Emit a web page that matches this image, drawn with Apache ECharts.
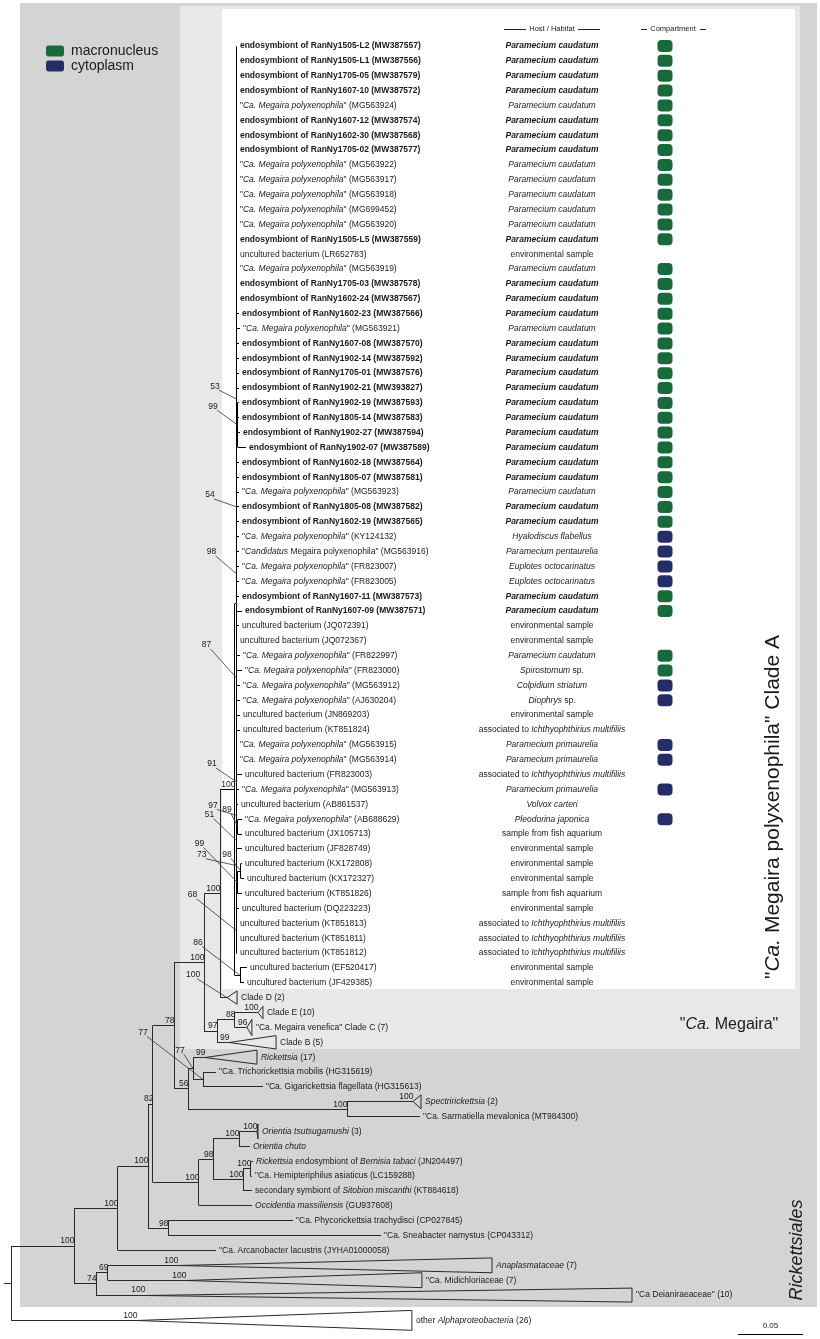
<!DOCTYPE html>
<html>
<head>
<meta charset="utf-8">
<script src="https://cdn.jsdelivr.net/npm/echarts@6/dist/echarts.min.js"></script>
<style>
  html, body { margin: 0; width: 100%; height: 100%; background: #fff; }
  #chart { width: 820px; height: 1339px; }
</style>
</head>
<body>
<div id="chart"></div>
<script>
// ---- data -------------------------------------------------------------
// leaf labels, _..._ marks italic parts
const MP = id => '"_Ca. Megaira polyxenophila_" (' + id + ')';
const ENDO = (n, id) => 'endosymbiont of RanNy' + n + ' (' + id + ')';
const UB = id => 'uncultured bacterium (' + id + ')';

const leafNames = [
  ENDO('1505-L2', 'MW387557'), ENDO('1505-L1', 'MW387556'), ENDO('1705-05', 'MW387579'), ENDO('1607-10', 'MW387572'),
  MP('MG563924'), ENDO('1607-12', 'MW387574'), ENDO('1602-30', 'MW387568'), ENDO('1705-02', 'MW387577'),
  MP('MG563922'), MP('MG563917'), MP('MG563918'), MP('MG699452'), MP('MG563920'),
  ENDO('1505-L5', 'MW387559'), UB('LR652783'), MP('MG563919'),
  ENDO('1705-03', 'MW387578'), ENDO('1602-24', 'MW387567'), ENDO('1602-23', 'MW387566'), MP('MG563921'),
  ENDO('1607-08', 'MW387570'), ENDO('1902-14', 'MW387592'), ENDO('1705-01', 'MW387576'), ENDO('1902-21', 'MW393827'),
  ENDO('1902-19', 'MW387593'), ENDO('1805-14', 'MW387583'), ENDO('1902-27', 'MW387594'), ENDO('1902-07', 'MW387589'),
  ENDO('1602-18', 'MW387564'), ENDO('1805-07', 'MW387581'), MP('MG563923'), ENDO('1805-08', 'MW387582'),
  ENDO('1602-19', 'MW387565'), MP('KY124132'), '"_Candidatus_ Megaira polyxenophila" (MG563916)', MP('FR823007'),
  MP('FR823005'), ENDO('1607-11', 'MW387573'), ENDO('1607-09', 'MW387571'), UB('JQ072391'),
  UB('JQ072367'), MP('FR822997'), MP('FR823000'), MP('MG563912'), MP('AJ630204'),
  UB('JN869203'), UB('KT851824'), MP('MG563915'), MP('MG563914'), UB('FR823003'), MP('MG563913'),
  UB('AB861537'), MP('AB688629'), UB('JX105713'), UB('JF828749'), UB('KX172808'), UB('KX172327'),
  UB('KT851826'), UB('DQ223223'), UB('KT851813'), UB('KT851811'), UB('KT851812'), UB('EF520417'), UB('JF429385'),
  'Clade D (2)', 'Clade E (10)', '"Ca. Megaira venefica" Clade C (7)', 'Clade B (5)',
  '_Rickettsia_ (17)', '"Ca. Trichorickettsia mobilis (HG315619)', '"Ca. Gigarickettsia flagellata (HG315613)',
  '_Spectririckettsia_ (2)', '"Ca. Sarmatiella mevalonica (MT984300)',
  '_Orientia tsutsugamushi_ (3)', '_Orientia chuto_', '_Rickettsia_ endosymbiont of _Bernisia tabaci_ (JN204497)',
  '"Ca. Hemipteriphilus asiaticus (LC159288)', 'secondary symbiont of _Sitobion miscanthi_ (KT884618)',
  '_Occidentia massiliensis_ (GU937608)', '"Ca. Phycorickettsia trachydisci (CP027845)',
  '"Ca. Sneabacter namystus (CP043312)', '"Ca. Arcanobacter lacustris (JYHA01000058)',
  '_Anaplasmataceae_ (7)', '"Ca. Midichloriaceae (7)', '"Ca Deianiraeaceae" (10)', 'other _Alphaproteobacteria_ (26)'
];

const boldRows = [0, 1, 2, 3, 5, 6, 7, 13, 16, 17, 18, 20, 21, 22, 23, 24, 25, 26, 27, 28, 29, 31, 32, 37, 38];

// distance from root (substitutions/site) of each leaf, or of the apex for collapsed clades
const leafDepth = [
  0.1738, 0.1738, 0.1738, 0.1738, 0.1738, 0.1738, 0.1738, 0.1738, 0.1738, 0.1738,
  0.1738, 0.1738, 0.1738, 0.1738, 0.1738, 0.1738, 0.1738, 0.1738, 0.1754, 0.1762,
  0.1754, 0.1754, 0.1754, 0.1754, 0.1754, 0.1754, 0.1762, 0.1808, 0.1754, 0.1754,
  0.1754, 0.1754, 0.1754, 0.1754, 0.1754, 0.1754, 0.1754, 0.1754, 0.1777, 0.1754,
  0.1738, 0.1762, 0.1777, 0.1762, 0.1762, 0.1762, 0.1762, 0.1738, 0.1738, 0.1777,
  0.1754, 0.1746, 0.1777, 0.1777, 0.1777, 0.1777, 0.1792, 0.1777, 0.1754, 0.1738,
  0.1738, 0.1738, 0.1815, 0.1792,
  0.1662, 0.1900, 0.1815, 0.1677, 0.1492, 0.1577, 0.1938, 0.3092, 0.3146,
  0.1892, 0.1838, 0.1862, 0.1854, 0.1854, 0.1854, 0.2169, 0.2846, 0.1577,
  0.1285, 0.1346, 0.1031, 0.0969
];

const collapsedLeaves = [64, 65, 66, 67, 68, 71, 73, 82, 83, 84, 85];
const collapsedLength = [0.0077, 0.0038, 0.0038, 0.0362, 0.0400, 0.0062, 0.0008, 0.2415, 0.1815, 0.3746, 0.2115];
const collapsedHalfRows = [0.45, 0.42, 0.55, 0.45, 0.47, 0.47, 0.5, 0.5, 0.5, 0.47, 0.67];
const leafSupport = { 64: 100, 65: 100, 66: 96, 67: 99, 68: 99, 71: 100, 73: 100, 82: 100, 83: 100, 84: 100, 85: 100 };
const rowShift = { 85: 0.7 };

// internal nodes: [depth, bootstrap, children, name]
const cladeA =
  [0.1723, 100, [
    [0.1731, null, [
      [0.1735, null, [
        0, 1, 2, 3, 4, 5, 6, 7, 8, 9, 10, 11, 12, 13, 14, 15, 16, 17, 18, 19, 20, 21,
        [0.1738, 53, [22, 23, [0.1746, 99, [24, 25, 26, 27], 'N99a']], 'N53'],
        28, 29,
        [0.1738, 54, [30, 31, 32], 'N54']
      ]],
      33, 34,
      [0.1735, 98, [35, 36], 'N98b'],
      37, 38, 39, 40,
      [0.1735, 87, [41, 42, 43, 44], 'N87'],
      45, 46, 47, 48,
      [0.1738, 91, [49, 50], 'N91'],
      [0.1735, 51, [
        [0.1738, 97, [51, [0.1746, 89, [52, 53], 'N89']], 'N97'],
        [0.1737, 73, [54, [0.1742, 99, [[0.1769, 98, [55, 56], 'N98c'], 57], 'N99']], 'N73']
      ], 'N51'],
      [0.1735, 68, [58, 59, 60, 61], 'N68']
    ]],
    [0.1762, 86, [62, 63], 'N86']
  ]];

const tree =
  [0, null, [
    [0.0485, 100, [
      [0.0823, 100, [
        [0.1054, 100, [
          [0.1092, 82, [
            [0.1254, 78, [
              [0.1485, 100, [
                [0.1608, 100, [cladeA, 64]],
                [0.1585, 97, [[0.1723, 88, [65, 66]], 67]]
              ]],
              [0.1362, 56, [
                [0.1400, 77, [68, [0.1477, 77, [69, 70], 'M77']], 'L77'],
                [0.2585, 100, [71, 72]]
              ]]
            ]],
            [0.1446, 100, [
              [0.1554, 98, [
                [0.1754, 100, [73, 74]],
                [0.1785, 100, [[0.1846, 100, [75, 76]], 77]]
              ]],
              78
            ]]
          ]],
          [0.1208, 98, [79, 80]]
        ]],
        81
      ]],
      [0.0654, 74, [[0.0746, 69, [82, 83]], 84]]
    ]],
    85
  ]];
const rootStub = -0.0054;

const PC = '_Paramecium caudatum_', ENV = 'environmental sample', PP = '_Paramecium primaurelia_';
const ICH = 'associated to _Ichthyophthirius multifiliis_', FISH = 'sample from fish aquarium';
const hosts = [
  PC, PC, PC, PC, PC, PC, PC, PC, PC, PC, PC, PC, PC, PC, ENV,
  PC, PC, PC, PC, PC, PC, PC, PC, PC, PC, PC, PC, PC, PC, PC, PC, PC, PC,
  '_Hyalodiscus flabellus_', '_Paramecium pentaurelia_', '_Euplotes octocarinatus_', '_Euplotes octocarinatus_',
  PC, PC, ENV, ENV, PC, '_Spirostomum_ sp.', '_Colpidium striatum_', '_Diophrys_ sp.',
  ENV, ICH, PP, PP, ICH, PP, '_Volvox carteri_', '_Pleodorina japonica_', FISH,
  ENV, ENV, ENV, FISH, ENV, ICH, ICH, ICH, ENV, ENV
];
// M = macronucleus, C = cytoplasm, - = not known
const compartments = 'MMMMMMMMMMMMMM-MMMMMMMMMMMMMMMMMMCCCCMM--MMCC--CC-C-C-----------'.split('');

const scaleBarLength = 0.05;

// ---- style ------------------------------------------------------------
const FONT = 'Liberation Sans, Arial, Helvetica, sans-serif';
const INK = '#1a1a1a';
const LINE = '#2a2a2a';
const GREEN = '#186a3b';
const BLUE = '#252d66';
const LABEL_SIZE = 8.5;
const HOST_X = 552;
const COMP_X = 665;
const leaderOffsets = {
  N53: [-22, -13], N99a: [-25, -19], N54: [-27, -12], N98b: [-25, -22], N87: [-30, -33],
  N91: [-25, -18], N97: [-24, -10], N89: [-11, -17], N51: [-27, -26], N73: [-35, -11],
  N99: [-38, -39], N98c: [-14, -17], N68: [-44, -36], N86: [-42, -33], leaf64: [-34, -23],
  L77: [-13, -18], M77: [-60, -47]
};

function richText(src, bold) {
  return src.split('_').map(function (part, k) {
    return part ? '{' + (bold ? 'b' : 'n') + (k % 2 ? 'i' : '') + '|' + part + '}' : '';
  }).join('');
}
function richStyles(size) {
  const base = { fontSize: size, fontFamily: FONT, fill: INK };
  return {
    n: base,
    ni: Object.assign({}, base, { fontStyle: 'italic' }),
    b: Object.assign({}, base, { fontWeight: 'bold' }),
    bi: Object.assign({}, base, { fontWeight: 'bold', fontStyle: 'italic' })
  };
}
const RICH = richStyles(LABEL_SIZE);

function leafRow(i) { return i + (rowShift[i] || 0); }

// ---- tree layout (rectangular phylogram, node y = middle of first/last child)
const branches = [];
function walk(node, parentDepth) {
  if (typeof node === 'number') {
    const y = leafRow(node);
    branches.push({ leaf: node, d: leafDepth[node], pd: parentDepth, y: y, s: leafSupport[node], key: 'leaf' + node });
    return y;
  }
  const d = node[0];
  const ys = node[2].map(function (k) { return walk(k, d); });
  const y = (ys[0] + ys[ys.length - 1]) / 2;
  branches.push({ d: d, pd: parentDepth, y: y, y0: ys[0], y1: ys[ys.length - 1], s: node[1], key: node[3] });
  return y;
}
walk(tree, rootStub);

const leaves = branches.filter(function (b) { return b.leaf != null; });
const supported = branches.filter(function (b) { return b.s != null; });
function collapsedIndex(i) { return collapsedLeaves.indexOf(i); }

const crisp = v => Math.round(v - 0.5) + 0.5;

function branchItem(params, api) {
  const b = branches[params.dataIndex];
  const inCladeA = b.y <= 63.5 && b.d > 0.17;
  const stroke = inCladeA ? '#000' : LINE;
  const p = api.coord([b.d, b.y]);
  const q = api.coord([b.pd, b.y]);
  const y = crisp(p[1]);
  const kids = [{
    type: 'line', shape: { x1: q[0], y1: y, x2: p[0], y2: y },
    style: { stroke: stroke, lineWidth: 1 }
  }];
  if (b.y0 !== undefined) {
    const a = api.coord([b.d, b.y0]);
    const c = api.coord([b.d, b.y1]);
    kids.push({
      type: 'line', shape: { x1: crisp(p[0]), y1: crisp(a[1]), x2: crisp(p[0]), y2: crisp(c[1]) },
      style: { stroke: stroke, lineWidth: 1 }
    });
  }
  if (b.leaf != null) {
    const ci = collapsedIndex(b.leaf);
    if (ci >= 0) {
      const end = b.d + collapsedLength[ci];
      const h = collapsedHalfRows[ci];
      const t = api.coord([end, b.y - h]);
      const u = api.coord([end, b.y + h]);
      kids.push({
        type: 'polygon', shape: { points: [[p[0], y], [t[0], t[1]], [u[0], u[1]]] },
        style: { fill: 'none', stroke: LINE, lineWidth: 1 }
      });
    }
  }
  return { type: 'group', children: kids };
}

function leafLabelItem(params, api) {
  const b = leaves[params.dataIndex];
  const ci = collapsedIndex(b.leaf);
  const end = ci >= 0 ? b.d + collapsedLength[ci] : b.d;
  const p = api.coord([end, b.y]);
  return {
    type: 'text', x: p[0] + (ci >= 0 ? 4 : 3), y: p[1],
    style: {
      text: richText(leafNames[b.leaf], boldRows.indexOf(b.leaf) >= 0),
      rich: RICH, fontSize: LABEL_SIZE, fontFamily: FONT, fill: INK,
      align: 'left', verticalAlign: 'middle'
    }
  };
}

function supportItem(params, api) {
  const b = supported[params.dataIndex];
  const p = api.coord([b.d, b.y]);
  const txt = { text: String(b.s), fontSize: 8.5, fontFamily: FONT, fill: INK };
  const off = b.key && leaderOffsets[b.key];
  if (off) {
    const lx = p[0] + off[0], ly = p[1] + off[1];
    return {
      type: 'group', children: [
        { type: 'line', shape: { x1: lx + 4, y1: ly + 4, x2: p[0], y2: p[1] }, style: { stroke: '#333', lineWidth: 0.8 } },
        { type: 'text', x: lx, y: ly, style: Object.assign({ align: 'center', verticalAlign: 'middle' }, txt) }
      ]
    };
  }
  return { type: 'text', x: p[0] + 0.5, y: p[1] - 0.5, style: Object.assign({ align: 'right', verticalAlign: 'bottom' }, txt) };
}

function hostItem(params, api) {
  const i = params.dataIndex;
  const p = api.coord([0, i]);
  return {
    type: 'text', x: HOST_X, y: p[1],
    style: {
      text: richText(hosts[i], boldRows.indexOf(i) >= 0), rich: RICH,
      fontSize: LABEL_SIZE, fontFamily: FONT, fill: INK, align: 'center', verticalAlign: 'middle'
    }
  };
}

function markerItem(params, api) {
  const p = api.coord([0, api.value(0)]);
  return {
    type: 'rect', shape: { x: COMP_X - 7.5, y: p[1] - 6, width: 15, height: 12, r: 4 },
    style: { fill: api.visual('color') }
  };
}

function scaleItem(params, api) {
  const a = api.coord([api.value(0), api.value(1)]);
  const b = api.coord([api.value(0) + scaleBarLength, api.value(1)]);
  return {
    type: 'group', children: [
      { type: 'line', shape: { x1: a[0], y1: crisp(a[1]), x2: b[0], y2: crisp(a[1]) }, style: { stroke: '#000', lineWidth: 1 } },
      { type: 'text', x: (a[0] + b[0]) / 2, y: a[1] - 5, style: { text: String(scaleBarLength), fontSize: 8, fontFamily: FONT, fill: INK, align: 'center', verticalAlign: 'bottom' } }
    ]
  };
}

const rowsOf = code => compartments.map((c, i) => c === code ? [i] : null).filter(Boolean);

const headText = { fontSize: 7.5, fontFamily: FONT, fill: INK, align: 'center', verticalAlign: 'middle' };

const option = {
  backgroundColor: '#ffffff',
  animation: false,
  grid: { left: 11, top: 46, width: 780, height: 86 * 14.87 },
  xAxis: { type: 'value', min: 0, max: 0.6, show: false },
  yAxis: { type: 'value', min: 0, max: 86, inverse: true, show: false },
  legend: {
    orient: 'vertical', left: 46, top: 44, padding: 0, itemWidth: 18, itemHeight: 11, itemGap: 1,
    icon: 'roundRect', selectedMode: false,
    textStyle: { fontFamily: FONT, fontSize: 14, color: INK, padding: [0, 0, 0, 2] },
    data: ['macronucleus', 'cytoplasm']
  },
  graphic: [
    { type: 'rect', silent: true, z: -10, shape: { x: 20, y: 3, width: 797, height: 1304 }, style: { fill: '#d4d4d4' } },
    { type: 'rect', silent: true, z: -9, shape: { x: 180, y: 6, width: 620, height: 1043 }, style: { fill: '#e7e8e8' } },
    { type: 'rect', silent: true, z: -8, shape: { x: 222, y: 9, width: 573, height: 980 }, style: { fill: '#ffffff' } },
    { type: 'text', x: HOST_X, y: 29, style: Object.assign({ text: 'Host / Habitat' }, headText) },
    { type: 'line', shape: { x1: 504, y1: 29.5, x2: 526, y2: 29.5 }, style: { stroke: '#222', lineWidth: 1 } },
    { type: 'line', shape: { x1: 578, y1: 29.5, x2: 600, y2: 29.5 }, style: { stroke: '#222', lineWidth: 1 } },
    { type: 'text', x: 673, y: 29, style: Object.assign({ text: 'Compartment' }, headText) },
    { type: 'line', shape: { x1: 641, y1: 29.5, x2: 647, y2: 29.5 }, style: { stroke: '#222', lineWidth: 1 } },
    { type: 'line', shape: { x1: 700, y1: 29.5, x2: 706, y2: 29.5 }, style: { stroke: '#222', lineWidth: 1 } },
    {
      type: 'text', x: 773, y: 807, rotation: Math.PI / 2,
      style: {
        text: '{n|"}{i|Ca.}{n| Megaira polyxenophila" Clade A}', align: 'center', verticalAlign: 'middle',
        rich: { n: { fontSize: 21, fontFamily: FONT, fill: INK }, i: { fontSize: 21, fontFamily: FONT, fill: INK, fontStyle: 'italic' } }
      }
    },
    {
      type: 'text', x: 729, y: 1025,
      style: {
        text: '{n|"}{i|Ca.}{n| Megaira"}', align: 'center', verticalAlign: 'middle',
        rich: { n: { fontSize: 16, fontFamily: FONT, fill: INK }, i: { fontSize: 16, fontFamily: FONT, fill: INK, fontStyle: 'italic' } }
      }
    },
    {
      type: 'text', x: 797, y: 1250, rotation: Math.PI / 2,
      style: { text: 'Rickettsiales', fontSize: 18, fontStyle: 'italic', fontFamily: FONT, fill: INK, align: 'center', verticalAlign: 'middle' }
    }
  ],
  series: [
    {
      name: 'tree', type: 'custom', coordinateSystem: 'cartesian2d', silent: true, clip: false,
      data: branches.map(b => [b.d, b.y]), encode: { x: 0, y: 1 }, renderItem: branchItem
    },
    {
      name: 'labels', type: 'custom', coordinateSystem: 'cartesian2d', silent: true, clip: false,
      data: leaves.map(b => [b.d, b.y]), encode: { x: 0, y: 1 }, renderItem: leafLabelItem
    },
    {
      name: 'support', type: 'custom', coordinateSystem: 'cartesian2d', silent: true, clip: false,
      data: supported.map(b => [b.d, b.y]), encode: { x: 0, y: 1 }, renderItem: supportItem
    },
    {
      name: 'hosts', type: 'custom', coordinateSystem: 'cartesian2d', silent: true, clip: false,
      data: hosts.map((h, i) => [0, i]), encode: { x: 0, y: 1 }, renderItem: hostItem
    },
    {
      name: 'macronucleus', type: 'custom', coordinateSystem: 'cartesian2d', silent: true, clip: false,
      itemStyle: { color: GREEN }, data: rowsOf('M'), encode: { y: 0 }, renderItem: markerItem
    },
    {
      name: 'cytoplasm', type: 'custom', coordinateSystem: 'cartesian2d', silent: true, clip: false,
      itemStyle: { color: BLUE }, data: rowsOf('C'), encode: { y: 0 }, renderItem: markerItem
    },
    {
      name: 'scale', type: 'custom', coordinateSystem: 'cartesian2d', silent: true, clip: false,
      data: [[0.5592, 86.68]], encode: { x: 0, y: 1 }, renderItem: scaleItem
    }
  ]
};

try {
  const chart = echarts.init(document.getElementById('chart'));
  chart.setOption(option);
} catch (e) {
  console.log('chart error: ' + e);
}
</script>
</body>
</html>
